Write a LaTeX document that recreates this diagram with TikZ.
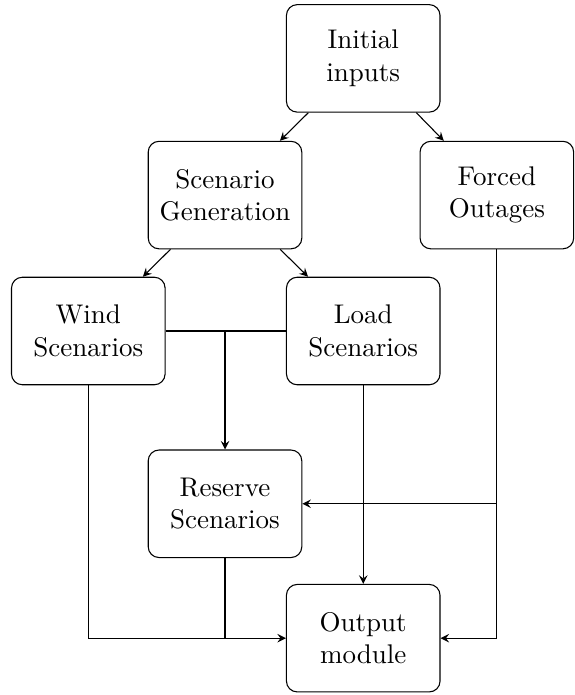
\documentclass[tikz,border=0pt]{standalone}
\begin{document}
\begin{tikzpicture}[>=stealth,
	box/.style={draw, rounded corners, align=center, minimum width=2cm, minimum height=1.4cm}]
		\useasboundingbox (0,0) rectangle (7.48,-9.05);
		\node[box] (init) at (4.73,-0.76) {Initial\\inputs};
		\node[box] (scen) at (2.93,-2.54) {Scenario\\Generation};
		\node[box] (forced) at (6.47,-2.54) {Forced\\Outages};
		\node[box] (wind) at (1.15,-4.31) {Wind\\Scenarios};
		\node[box] (load) at (4.73,-4.31) {Load\\Scenarios};
		\node[box] (reserve) at (2.93,-6.56) {Reserve\\Scenarios};
		\node[box] (output) at (4.73,-8.31) {Output\\module};
		\draw[->] (init) -- (scen);
		\draw[->] (init) -- (forced);
		\draw[->] (scen) -- (wind);
		\draw[->] (scen) -- (load);
		\draw (wind) -- (load);
		\coordinate (wl) at (reserve |- wind);
		\draw[->] (wl) -- (reserve);
		\draw[->] (wind) |- (output);
		\coordinate (ro) at (reserve |- output);
		\draw (reserve) -- (ro);
		\draw[->] (load) -- (output);
		\draw[->] (forced) |- (output);
		\coordinate (fr) at (forced |- reserve);
		\draw[->] (fr) -- (reserve);
\end{tikzpicture}
\end{document}
